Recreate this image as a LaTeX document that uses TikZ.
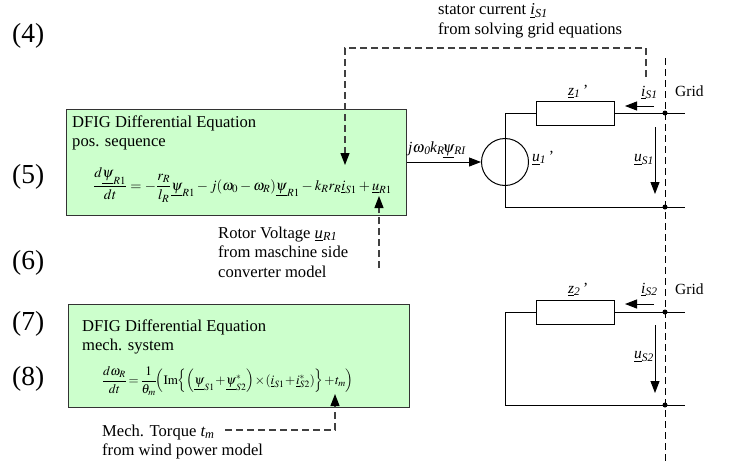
\documentclass[tikz,border=0pt]{standalone}
\usepackage{mathptmx}
\usepackage[no-math]{fontspec}
\setmainfont{Liberation Serif}
\usetikzlibrary{arrows.meta,calc}
\newcommand{\phasor}[2]{\underline{\textit{#1}}\textsubscript{\textit{#2}}}
\definecolor{eqgreen}{RGB}{204,255,204}
\tikzset{
    eqbox/.style =  {rectangle,
                    fill=eqgreen,
                    draw=black!80,
                    line width=1pt,
                    anchor=north west,
                    inner sep=0pt},
    res/.style =    {rectangle,
                    fill=white,
                    draw=black,
                    line width=1pt,
                    anchor=north west,
                    inner sep=0pt,
                    minimum width=78pt,
                    minimum height=23.5pt},
    source/.style = {circle,
                    draw=black,
                    line width=1pt,
                    inner sep=0pt,
                    minimum size=47pt},
    junction/.style = {circle,
                    fill=black,
                    inner sep=0pt,
                    minimum size=5pt},
    txt/.style =    {anchor=west,
                    inner sep=0pt,
                    align=left,
                    font=\fontsize{16.6}{19.5}\selectfont},
    lbl/.style =    {anchor=west,
                    inner sep=0pt,
                    font=\fontsize{15.5}{18}\selectfont},
    eqn/.style =    {anchor=west,
                    inner sep=0pt},
    num/.style =    {anchor=west,
                    inner sep=0pt,
                    font=\fontsize{27.5}{30}\selectfont},
    wire/.style =   {draw=black,
                    line width=1pt},
    signal/.style = {draw=black!75,
                    line width=1.2pt,
                    dash pattern=on 7pt off 4pt},
    boundary/.style = {draw=black,
                    line width=1pt,
                    dash pattern=on 7pt off 4pt},
    >={Triangle[length=12pt,width=9pt,color=black]}
}
\begin{document}
\begin{tikzpicture}[x=1pt,y=-1pt]
    \useasboundingbox (0,0) rectangle (733,461);
    % equation numbers
    \node[num] (N4) at (12,36)  {(4)};
    \node[num] (N5) at (12,177) {(5)};
    \node[num] (N6) at (12,263) {(6)};
    \node[num] (N7) at (12,324) {(7)};
    \node[num] (N8) at (12,379) {(8)};
    % equation boxes
    \node[eqbox,minimum width=340pt,minimum height=106pt] (Pos) at (66,109) {};
    \node[eqbox,minimum width=341pt,minimum height=103pt] (Mech) at (68,304) {};
    \node[txt] (PosT) at (72,133) {DFIG Differential Equation\\pos. sequence};
    \node[txt] (MechT) at (82,337) {DFIG Differential Equation\\mech. system};
    \node[eqn] (PosE) at (93,185) {\fontsize{14.4}{16}\selectfont
        $\displaystyle\frac{d\underline{\psi}_{R1}}{dt}=-\frac{r_R}{l_R}\underline{\psi}_{R1}-j(\omega_0-\omega_R)\underline{\psi}_{R1}-k_Rr_R\underline{i}_{S1}+\underline{u}_{R1}$};
    \node[eqn] (MechE) at (103,381) {\fontsize{13}{15}\selectfont\thinmuskip=0mu\medmuskip=1mu\nulldelimiterspace=0pt
        $\displaystyle\frac{d\omega_R}{dt}=\frac{1}{\theta_m}\left(\mathrm{Im}\!\left\{\!\left(\underline{\psi}_{S1}+\underline{\psi}^*_{S2}\right)\!\times\!\left(\underline{i}_{S1}+\underline{i}^*_{S2}\right)\!\right\}\!+t_m\right)$};
    % input labels
    \node[txt] (Stator) at (438,21) {stator current \phasor{i}{S1}\\from solving grid equations};
    \node[txt] (Rotor) at (218,252) {Rotor Voltage \phasor{u}{R1}\\from maschine side\\converter model};
    \node[txt] (Torque) at (102,442) {Mech. Torque \textit{t\textsubscript{m}}\\from wind power model};
    % positive sequence circuit
    \node[res] (Z1) at (536,101) {};
    \node[source] (U1) at (505,162) {};
    \node[junction] (J1) at (665,113) {};
    \node[junction] (J2) at (665,207) {};
    \coordinate (G1) at (685,113);
    \coordinate (G2) at (685,207);
    \coordinate (C1) at (505,113);
    \coordinate (C2) at (505,207);
    \draw[wire] (Z1.west |- C1) -- (C1) -- (C2) -- (G2);
    \draw[wire] (Z1.east |- G1) -- (G1);
    \draw[wire,->] (Pos.east |- U1) -- (U1.west);
    \node[lbl] (Jw) at (408,150) {\textit{j$\omega$\textsubscript{0}\kern-.5pt k\textsubscript{R}\kern-2pt$\underline{\psi}$\textsubscript{RI}}};
    \node[lbl] (Z1L) at (568,92) {\underline{\textit{z}}\textsubscript{\textit{1}}\,'};
    \node[lbl] (U1L) at (532,158) {\underline{\textit{u}}\textsubscript{\textit{1}}\,'};
    \node[lbl] (Is1L) at (641,93) {\phasor{i}{S1}};
    \node[lbl] (Us1L) at (634,160) {\phasor{u}{S1}};
    \node[lbl] (Grid1) at (675,91) {Grid};
    \coordinate (Is1a) at (654,106);
    \coordinate (Is1b) at (625,106);
    \coordinate (Us1a) at (655,127);
    \coordinate (Us1b) at (655,194);
    \draw[wire,->] (Is1a) -- (Is1b);
    \draw[wire,->] (Us1a) -- (Us1b);
    % negative sequence circuit
    \node[res] (Z2) at (536,300) {};
    \node[junction] (J3) at (665,312) {};
    \node[junction] (J4) at (665,405) {};
    \coordinate (G3) at (685,312);
    \coordinate (G4) at (685,405);
    \coordinate (C3) at (505,312);
    \coordinate (C4) at (505,405);
    \draw[wire] (Z2.west |- C3) -- (C3) -- (C4) -- (G4);
    \draw[wire] (Z2.east |- G3) -- (G3);
    \node[lbl] (Z2L) at (568,290) {\underline{\textit{z}}\textsubscript{\textit{2}}\,'};
    \node[lbl] (Is2L) at (641,290) {\phasor{i}{S2}};
    \node[lbl] (Us2L) at (634,357) {\phasor{u}{S2}};
    \node[lbl] (Grid2) at (675,289) {Grid};
    \coordinate (Is2a) at (654,304);
    \coordinate (Is2b) at (625,304);
    \coordinate (Us2a) at (655,325);
    \coordinate (Us2b) at (655,393);
    \draw[wire,->] (Is2a) -- (Is2b);
    \draw[wire,->] (Us2a) -- (Us2b);
    % grid boundary
    \coordinate (B1) at (665,58);
    \coordinate (B2) at (665,461);
    \draw[boundary] (B1) -- (B2);
    % signal paths
    \coordinate (Fa) at (646,77);
    \coordinate (Fb) at (646,48);
    \coordinate (Fc) at (345,48);
    \coordinate (Fd) at (345,165);
    \draw[signal,->] (Fa) -- (Fb) -- (Fc) -- (Fd);
    \coordinate (Ra) at (379,268);
    \coordinate (Rb) at (379,196);
    \draw[signal,->] (Ra) -- (Rb);
    \coordinate (Ta) at (225,430);
    \coordinate (Tb) at (335,430);
    \coordinate (Tc) at (335,394);
    \draw[signal,->] (Ta) -- (Tb) -- (Tc);
\end{tikzpicture}
\end{document}
